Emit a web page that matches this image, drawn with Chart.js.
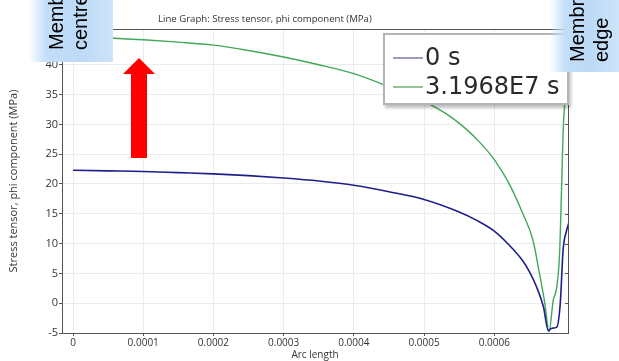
<!DOCTYPE html>
<html>
<head>
<meta charset="utf-8">
<script src="https://cdn.jsdelivr.net/npm/chart.js@4/dist/chart.umd.min.js"></script>
<style>
  body { margin: 0; background: #fff; }
  #wrap { position: relative; width: 619px; height: 361px; overflow: hidden; }
  #chart { position: absolute; left: 0; top: 0; }
  .graph-title {
    position: absolute; left: 158px; top: 12px;
    font: 9.6px 'Open Sans', sans-serif; color: #333; white-space: nowrap;
  }
  .legend-box {
    position: absolute; left: 383px; top: 33px; width: 182px; height: 68px;
    background: #fff; border: 2px solid #b4b4b4;
    box-shadow: 2px 3px 3px rgba(0,0,0,0.25);
  }
  .legend-row {
    position: absolute; left: 8px; height: 28px;
    font: 24px 'DejaVu Sans', sans-serif; color: #2a2a2a; line-height: 28px; white-space: nowrap;
  }
  .legend-row span.swatch {
    display: inline-block; width: 30px; height: 2px; vertical-align: middle; margin-right: 2px;
  }
  .note {
    position: absolute; top: 0; overflow: hidden;
    background: linear-gradient(to right, rgba(197,223,248,0) 0%, #c3def8 22%, #bcdaf7 60%, #cde4fa 100%);
  }
  .note div {
    position: absolute; transform-origin: left top; transform: rotate(-90deg);
    font: 20px 'Liberation Sans', Arial, sans-serif; color: #000;
    line-height: 24px; white-space: nowrap;
  }
</style>
</head>
<body>
<div id="wrap">
  <canvas id="chart" width="619" height="361"></canvas>
  <div class="graph-title">Line Graph: Stress tensor, phi component (MPa)</div>

  <div class="legend-box">
    <div class="legend-row" style="top:8px"><span class="swatch" style="background:#9c9cc4"></span>0 s</div>
    <div class="legend-row" style="top:37px"><span class="swatch" style="background:#94c49c"></span>3.1968E7 s</div>
  </div>

  <div class="note" style="left:28px; width:85px; height:62px;">
    <div style="left:16px; top:50px;">Membrane<br>centre</div>
  </div>
  <div class="note" style="left:550px; width:69px; height:72px;">
    <div style="left:15px; top:62px;">Membrane<br>edge</div>
  </div>

  <svg style="position:absolute; left:0; top:0;" width="619" height="361">
    <polygon points="131,158 131,74 123,74 139,58 155,74 147,74 147,158" fill="#ff0000"/>
  </svg>
</div>

<script>
// Arc length (m) and stress (MPa)
const arcLength0 = [0, 0.00005, 0.0001, 0.00015, 0.0002, 0.00025, 0.0003, 0.00035, 0.0004,
  0.00045, 0.0005, 0.00055, 0.000575, 0.0006, 0.00062, 0.00064, 0.00065, 0.00066, 0.00067,
  0.000677, 0.000682, 0.000689, 0.000694, 0.000698, 0.000703, 0.000706];
const stress0 = [22.3, 22.2, 22.1, 21.9, 21.7, 21.4, 21.0, 20.5, 19.8,
  18.7, 17.4, 15.3, 13.9, 12.1, 9.9, 7.2, 5.3, 2.8, -0.6,
  -4.6, -4.2, -4.0, 0.0, 8.9, 12.2, 13.4];

const arcLength1 = [0, 0.00005, 0.0001, 0.00015, 0.0002, 0.00025, 0.0003, 0.00035, 0.0004,
  0.00045, 0.0005, 0.00052, 0.00054, 0.00056, 0.00058, 0.0006, 0.00062, 0.00064, 0.000655,
  0.000665, 0.000672, 0.000678, 0.000684, 0.000689, 0.000693, 0.000696, 0.000698, 0.0007, 0.000705];
const stress1 = [44.6, 44.5, 44.2, 43.8, 43.3, 42.4, 41.3, 40.0, 38.5,
  36.3, 33.8, 32.6, 31.1, 29.2, 26.9, 24.1, 20.3, 15.2, 10.6,
  4.6, 0.0, -4.8, 0.5, 2.7, 8.3, 20.0, 28.5, 33.0, 38.0];

const seriesNames = ['0 s', '3.1968E7 s'];
const xTicks = [0, 0.0001, 0.0002, 0.0003, 0.0004, 0.0005, 0.0006];
const xTickLabels = ['0', '0.0001', '0.0002', '0.0003', '0.0004', '0.0005', '0.0006'];
const yTicks = [-5, 0, 5, 10, 15, 20, 25, 30, 35, 40];

function toPoints(xs, ys) {
  return xs.map((x, i) => ({ x: x, y: ys[i] }));
}

// frame on top and right, with little inward ticks like the original plot
const framePlugin = {
  id: 'frame',
  afterDraw(chart) {
    const a = chart.chartArea;
    const c = chart.ctx;
    const yScale = chart.scales.y;
    c.save();
    c.strokeStyle = '#555';
    c.lineWidth = 1;
    c.beginPath();
    c.moveTo(a.left, a.top + 0.5);
    c.lineTo(a.right + 0.5, a.top + 0.5);
    c.lineTo(a.right + 0.5, a.bottom);
    yTicks.forEach(v => {
      const py = Math.round(yScale.getPixelForValue(v)) + 0.5;
      c.moveTo(a.right, py);
      c.lineTo(a.right - 3, py);
    });
    c.stroke();
    c.restore();
  }
};

Chart.defaults.font.family = "'Open Sans', sans-serif";
Chart.defaults.color = '#333';

const ctx = document.getElementById('chart').getContext('2d');
new Chart(ctx, {
  type: 'line',
  data: {
    datasets: [{
      label: seriesNames[0],
      data: toPoints(arcLength0, stress0),
      borderColor: '#1e1e8c',
      borderWidth: 1.6,
      pointRadius: 0,
      cubicInterpolationMode: 'monotone'
    }, {
      label: seriesNames[1],
      data: toPoints(arcLength1, stress1),
      borderColor: '#42a85a',
      borderWidth: 1.4,
      pointRadius: 0,
      cubicInterpolationMode: 'monotone'
    }]
  },
  options: {
    responsive: false,
    animation: false,
    devicePixelRatio: 1,
    layout: { padding: { left: 7, top: 29, right: 51, bottom: 0 } },
    plugins: {
      legend: { display: false },
      tooltip: { enabled: false }
    },
    scales: {
      x: {
        type: 'linear',
        min: -0.0000157,
        max: 0.000705,
        afterBuildTicks: s => { s.ticks = xTicks.map(v => ({ value: v })); },
        afterFit: s => { s.height = 28; },
        ticks: {
          font: { size: 10 },
          padding: 1,
          maxRotation: 0,
          callback: (v, i) => xTickLabels[i]
        },
        grid: { color: '#ececec', tickColor: '#555', tickLength: 3 },
        border: { color: '#555' },
        title: { display: true, text: 'Arc length', font: { size: 10 }, padding: 0 }
      },
      y: {
        min: -5,
        max: 46,
        afterBuildTicks: s => { s.ticks = yTicks.map(v => ({ value: v })); },
        afterFit: s => { s.width = 55; },
        ticks: { font: { size: 11 }, padding: 1 },
        grid: { color: '#ececec', tickColor: '#555', tickLength: 3 },
        border: { color: '#555' },
        title: {
          display: true,
          text: 'Stress tensor, phi component (MPa)',
          font: { size: 11 },
          padding: 0
        }
      }
    }
  },
  plugins: [framePlugin]
});
</script>
</body>
</html>
